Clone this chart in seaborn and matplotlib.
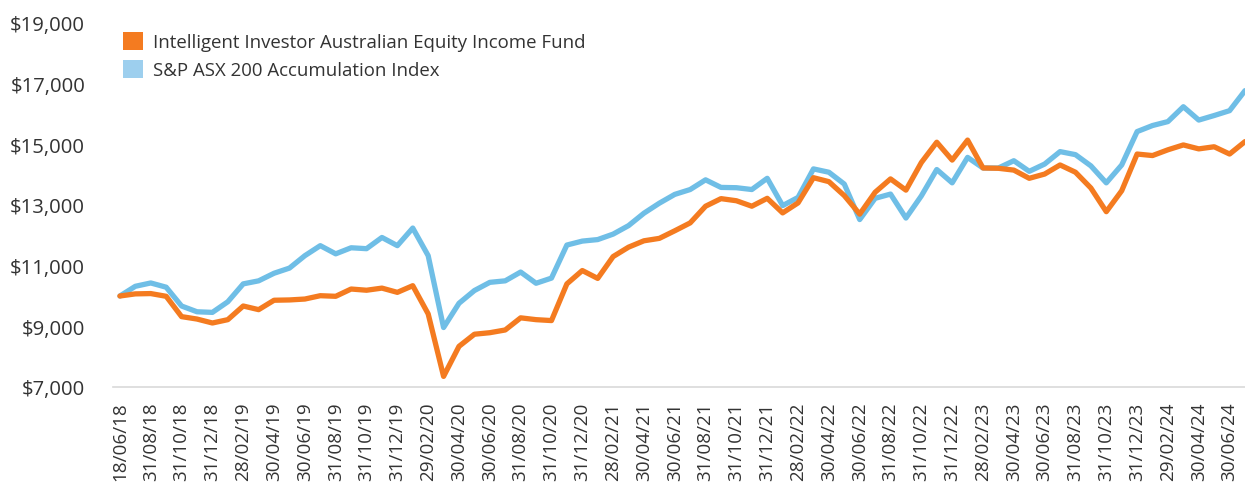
import matplotlib
matplotlib.use("Agg")
import matplotlib.pyplot as plt
from matplotlib.patches import Patch
import seaborn as sns
import pandas as pd
import numpy as np

fund_name = "Intelligent Investor Australian Equity Income Fund"
index_name = "S&P ASX 200 Accumulation Index"

fund = [10000, 10070, 10080, 9990, 9320, 9240, 9110, 9220, 9670, 9550,
        9860, 9870, 9900, 10010, 9990, 10230, 10190, 10260, 10120, 10340,
        9410, 7350, 8340, 8740, 8790, 8880, 9280, 9220, 9190, 10400,
        10840, 10580, 11300, 11610, 11820, 11900, 12150, 12410, 12960, 13210,
        13140, 12960, 13220, 12740, 13070, 13900, 13770, 13310, 12700, 13420,
        13860, 13490, 14400, 15070, 14480, 15140, 14220, 14210, 14150, 13880,
        14020, 14320, 14080, 13560, 12780, 13470, 14680, 14630, 14820, 14980,
        14850, 14920, 14680, 15090]

index = [10000, 10320, 10430, 10290, 9670, 9480, 9460, 9810, 10400, 10500,
         10750, 10920, 11330, 11660, 11390, 11590, 11560, 11930, 11660, 12240,
         11330, 8960, 9760, 10180, 10450, 10500, 10790, 10420, 10590, 11680,
         11810, 11860, 12040, 12320, 12730, 13060, 13350, 13510, 13830, 13580,
         13570, 13510, 13880, 12980, 13250, 14190, 14080, 13690, 12520, 13220,
         13360, 12570, 13300, 14170, 13730, 14570, 14220, 14220, 14460, 14110,
         14350, 14760, 14660, 14290, 13730, 14320, 15420, 15620, 15750, 16240,
         15800, 15950, 16110, 16770]

tick_labels = ["18/06/18", "31/08/18", "31/10/18", "31/12/18", "28/02/19", "30/04/19",
               "30/06/19", "31/08/19", "31/10/19", "31/12/19", "29/02/20", "30/04/20",
               "30/06/20", "31/08/20", "31/10/20", "31/12/20", "28/02/21", "30/04/21",
               "30/06/21", "31/08/21", "31/10/21", "31/12/21", "28/02/22", "30/04/22",
               "30/06/22", "31/08/22", "31/10/22", "31/12/22", "28/02/23", "30/04/23",
               "30/06/23", "31/08/23", "31/10/23", "31/12/23", "29/02/24", "30/04/24",
               "30/06/24"]

y_ticks = [7000, 9000, 11000, 13000, 15000, 17000, 19000]

orange = "#F47B20"
blue_line = "#6FBEE6"
blue_patch = "#9DCFEE"
text_col = "#333333"

n = len(fund)
df = pd.DataFrame({
    "month": list(range(n)) * 2,
    "value": fund + index,
    "series": [fund_name] * n + [index_name] * n,
})

sns.set_theme(style="white")
plt.rcParams["font.family"] = ["Open Sans", "DejaVu Sans"]

fig = plt.figure(figsize=(12.45, 4.85), dpi=100)
ax = fig.add_axes([113 / 1245, 97 / 485, 1 - 113 / 1245, 364 / 485])

sns.lineplot(data=df, x="month", y="value", hue="series",
             palette={fund_name: orange, index_name: blue_line},
             hue_order=[index_name, fund_name],
             linewidth=3.8, ax=ax, legend=False, clip_on=False)

ax.set_xlim(-0.45, n - 1)
ax.set_ylim(7000, 19000)
ax.set_yticks(y_ticks)
ax.set_yticklabels([f"${v:,.0f}" for v in y_ticks])
ax.set_xticks(list(range(0, 2 * len(tick_labels), 2)))
ax.set_xticklabels(tick_labels, rotation=90, va="top", ha="center")
ax.set_xlabel("")
ax.set_ylabel("")

for s in ["top", "right", "left"]:
    ax.spines[s].set_visible(False)
ax.spines["bottom"].set_color("#d9d9d9")
ax.spines["bottom"].set_linewidth(1.2)
ax.grid(False)

ax.tick_params(axis="y", length=0, pad=20, labelsize=14.6, labelcolor=text_col)
ax.tick_params(axis="x", length=0, pad=10.5, labelsize=13.6, labelcolor=text_col)

handles = [Patch(facecolor=orange, edgecolor="none"),
           Patch(facecolor=blue_patch, edgecolor="none")]
fig.legend(handles, [fund_name, index_name], loc="upper left",
           bbox_to_anchor=(122.7 / 1245, 1 - 33 / 485), frameon=False,
           fontsize=13.4, labelcolor=text_col, handlelength=1.07, handleheight=1.07,
           handletextpad=0.55, labelspacing=0.48, borderpad=0, borderaxespad=0)

fig.savefig("out.png", dpi=100)
